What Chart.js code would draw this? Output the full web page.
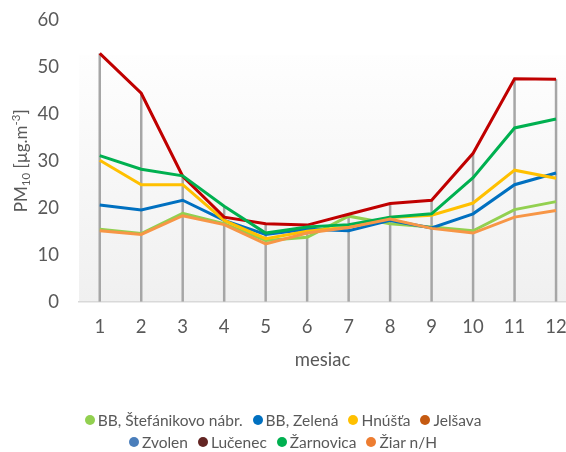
<!DOCTYPE html>
<html>
<head>
<meta charset="utf-8">
<title>PM10 – mesačné priemery</title>
<script src="https://cdn.jsdelivr.net/npm/chart.js@4.4.0/dist/chart.umd.min.js"></script>
<style>
  html, body { margin: 0; padding: 0; background: #fff; overflow: hidden; }
  #wrap { position: relative; width: 566px; height: 452px; }
  #legend {
    position: absolute; left: 0; top: 409px; width: 566px;
    font-family: Lato, "Open Sans", sans-serif; font-size: 15.5px; color: #595959;
  }
  .row { display: flex; justify-content: center; align-items: center; height: 22px; }
  .item { display: flex; align-items: center; margin: 0 5px; white-space: nowrap; }
  .dot { width: 10px; height: 10px; border-radius: 50%; margin-right: 3px; }
</style>
</head>
<body>
<div id="wrap">
  <canvas id="pmChart" width="566" height="452"></canvas>
  <div id="legend"></div>
</div>
<script>
// months on the x axis
const months = [1, 2, 3, 4, 5, 6, 7, 8, 9, 10, 11, 12];
const yTicks = [0, 10, 20, 30, 40, 50, 60];

// monthly PM10 averages per station (µg/m3)
const stefanikovo = [15.4, 14.5, 18.8, 16.6, 13.0, 13.7, 18.2, 16.6, 15.9, 15.1, 19.6, 21.3];
const zelena      = [20.6, 19.5, 21.6, 17.3, 14.3, 15.4, 15.1, 17.3, 15.7, 18.7, 24.9, 27.4];
const hnusta      = [30.1, 24.9, 24.9, 17.3, 13.4, 15.0, 15.9, 17.9, 18.4, 21.0, 28.0, 26.3];
const jelsava     = [];
const zvolen      = [];
const lucenec     = [52.9, 44.4, 26.7, 18.0, 16.6, 16.3, 18.6, 20.9, 21.6, 31.6, 47.5, 47.4];
const zarnovica   = [31.1, 28.2, 26.8, 20.3, 14.6, 15.9, 16.4, 18.0, 18.7, 26.4, 37.0, 38.9];
const ziar        = [15.1, 14.3, 18.3, 16.4, 12.3, 14.6, 15.8, 17.6, 15.6, 14.6, 18.0, 19.4];

const stations = [
  { name: 'BB, Štefánikovo nábr.', data: stefanikovo, line: '#92D050', key: '#92D050' },
  { name: 'BB, Zelená',            data: zelena,      line: '#0070C0', key: '#0070C0' },
  { name: 'Hnúšťa',                data: hnusta,      line: '#FFC000', key: '#FFC000' },
  { name: 'Jelšava',               data: jelsava,     line: '#C55A11', key: '#C55A11' },
  { name: 'Zvolen',                data: zvolen,      line: '#4A7EBB', key: '#4A7EBB' },
  { name: 'Lučenec',               data: lucenec,     line: '#C00000', key: '#632523' },
  { name: 'Žarnovica',             data: zarnovica,   line: '#00B050', key: '#00B050' },
  { name: 'Žiar n/H',              data: ziar,        line: '#F79646', key: '#ED7D31' }
];

const textColor = '#595959';
const fontFamily = 'Lato, "Open Sans", sans-serif';

// soft grey gradient behind the plot
const plotBackground = {
  id: 'plotBackground',
  beforeDraw(chart) {
    const { ctx, chartArea: a } = chart;
    const top = a.top + 35;
    const g = ctx.createLinearGradient(0, top, 0, a.bottom);
    g.addColorStop(0, '#FEFEFE');
    g.addColorStop(1, '#F0F0F0');
    ctx.save();
    ctx.fillStyle = g;
    ctx.fillRect(a.left, top, a.right - a.left, a.bottom - top);
    ctx.restore();
  }
};

// vertical drop lines from the highest value of each month down to the axis
const dropLines = {
  id: 'dropLines',
  beforeDatasetsDraw(chart) {
    const { ctx, scales: { x, y } } = chart;
    ctx.save();
    ctx.strokeStyle = '#A6A6A6';
    ctx.lineWidth = 2.5;
    months.forEach((m, i) => {
      const vals = stations.map(s => s.data[i]).filter(v => v != null);
      if (!vals.length) return;
      const px = x.getPixelForValue(m);
      ctx.beginPath();
      ctx.moveTo(px, y.getPixelForValue(Math.max(...vals)));
      ctx.lineTo(px, y.getPixelForValue(0));
      ctx.stroke();
    });
    ctx.restore();
  }
};

// y axis title with sub/superscript
const yTitle = {
  id: 'yTitle',
  afterDraw(chart) {
    const { ctx, chartArea: a } = chart;
    const big = '17px ' + fontFamily;
    const small = '11.5px ' + fontFamily;
    const parts = [
      { t: 'PM', f: big, dy: 0 },
      { t: '10', f: small, dy: 4 },
      { t: ' [µg.m', f: big, dy: 0 },
      { t: '-3', f: small, dy: -6 },
      { t: ']', f: big, dy: 0 }
    ];
    ctx.save();
    let total = 0;
    parts.forEach(p => { ctx.font = p.f; p.w = ctx.measureText(p.t).width; total += p.w; });
    ctx.translate(22, (a.top + a.bottom) / 2);
    ctx.rotate(-Math.PI / 2);
    ctx.fillStyle = textColor;
    ctx.textBaseline = 'middle';
    let cx = -total / 2;
    parts.forEach(p => {
      ctx.font = p.f;
      ctx.fillText(p.t, cx, p.dy);
      cx += p.w;
    });
    ctx.restore();
  }
};

const datasets = stations.map((s, i) => ({
  label: s.name,
  data: s.data.map((v, k) => ({ x: months[k], y: v })),
  borderColor: s.line,
  backgroundColor: s.line,
  borderWidth: 3,
  pointRadius: 0,
  tension: 0,
  order: stations.length - 1 - i
}));

new Chart(document.getElementById('pmChart'), {
  type: 'line',
  data: { datasets },
  options: {
    responsive: false,
    animation: false,
    layout: { padding: { top: 20, right: 0, bottom: 73, left: 0 } },
    plugins: { legend: { display: false }, tooltip: { enabled: false } },
    scales: {
      x: {
        type: 'linear',
        min: 0.5,
        max: 12.24,
        afterBuildTicks: scale => { scale.ticks = months.map(m => ({ value: m })); },
        // last label sits well inside the plot, no extra room needed at the edges
        afterFit: scale => { scale.paddingLeft = 0; scale.paddingRight = 0; },
        grid: { display: false, drawTicks: false },
        border: { color: '#D9D9D9', width: 1.5 },
        ticks: { color: textColor, font: { family: fontFamily, size: 18.5 }, padding: 14, maxRotation: 0 },
        title: { display: true, text: 'mesiac', color: textColor,
                 font: { family: fontFamily, size: 18.5 }, padding: { top: -3, bottom: 8 } }
      },
      y: {
        min: 0,
        max: 60,
        afterBuildTicks: scale => { scale.ticks = yTicks.map(v => ({ value: v })); },
        afterFit: scale => { scale.width = 79; scale.paddingTop = 0; scale.paddingBottom = 0; },
        grid: { display: false, drawTicks: false },
        border: { display: false },
        ticks: { color: textColor, font: { family: fontFamily, size: 18.5 }, padding: 20 }
      }
    }
  },
  plugins: [plotBackground, dropLines, yTitle]
});

// legend in two centred rows
const legend = document.getElementById('legend');
[stations.slice(0, 4), stations.slice(4)].forEach(group => {
  const row = document.createElement('div');
  row.className = 'row';
  group.forEach(s => {
    const item = document.createElement('span');
    item.className = 'item';
    item.innerHTML = '<span class="dot" style="background:' + s.key + '"></span>' + s.name;
    row.appendChild(item);
  });
  legend.appendChild(row);
});
</script>
</body>
</html>
